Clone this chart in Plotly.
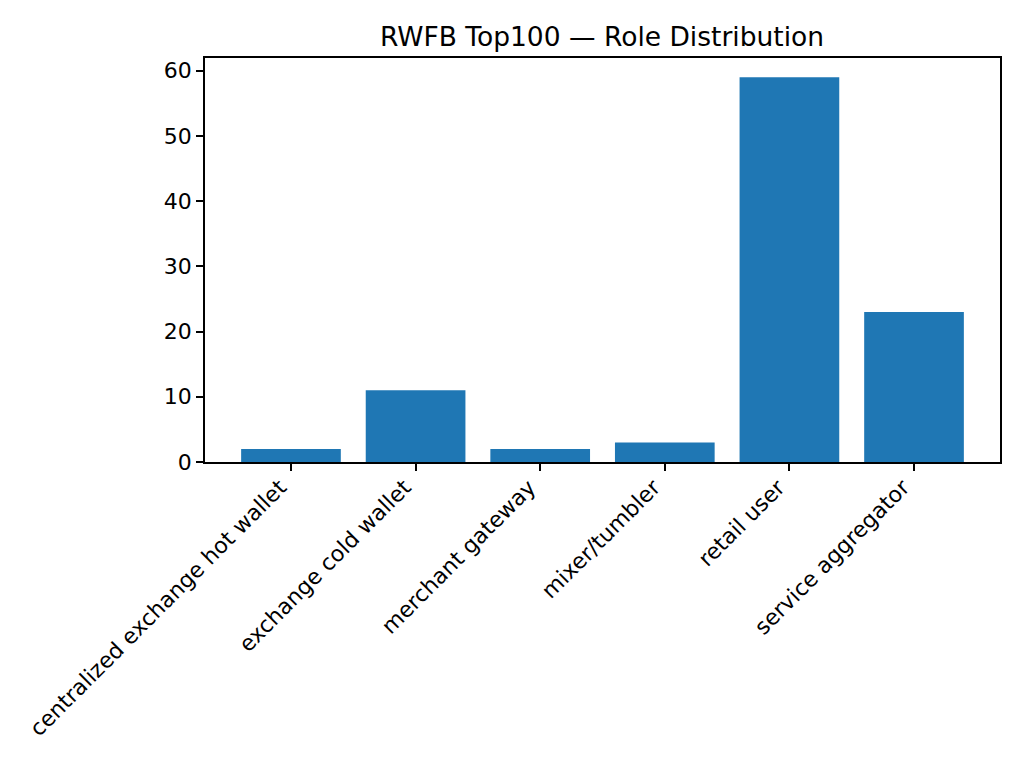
import plotly.graph_objects as go

# role counts
roles = ["centralized exchange hot wallet", "exchange cold wallet", "merchant gateway",
         "mixer/tumbler", "retail user", "service aggregator"]
counts = [2, 11, 2, 3, 59, 23]
y_ticks = [0, 10, 20, 30, 40, 50, 60]

# page has an 8px body margin, so the figure is 1008x760 and shifted
fig = go.Figure()
fig.add_trace(go.Bar(x=list(range(len(roles))), y=counts, width=0.8,
                     marker=dict(color="#1f77b4", line=dict(width=0))))

fig.update_layout(
    width=1008, height=760,
    margin=dict(l=197, r=16, t=50, b=306),
    plot_bgcolor="white", paper_bgcolor="white",
    font=dict(family="DejaVu Sans", size=22, color="black"),
    title=dict(text="RWFB Top100 — Role Distribution", x=594 / 1008, xanchor="center",
               y=1 - 29 / 760, yanchor="middle", yref="container",
               font=dict(size=26.5, color="black")),
    showlegend=False,
)

fig.update_xaxes(range=[-0.69, 5.69], tickmode="array", tickvals=list(range(len(roles))),
                 ticktext=roles, tickangle=-45, ticks="outside", ticklen=7, tickwidth=1.6,
                 tickcolor="black", showline=True, linecolor="black", linewidth=1.6,
                 mirror=True, showgrid=False, zeroline=False,
                 ticklabelshift=-11, ticklabelstandoff=-5)
fig.update_yaxes(range=[0, 61.95], tickmode="array", tickvals=y_ticks, ticks="outside",
                 ticklen=7, tickwidth=1.6, tickcolor="black", showline=True,
                 linecolor="black", linewidth=1.6, mirror=True, showgrid=False,
                 zeroline=False)

fig.write_html("out.html")
